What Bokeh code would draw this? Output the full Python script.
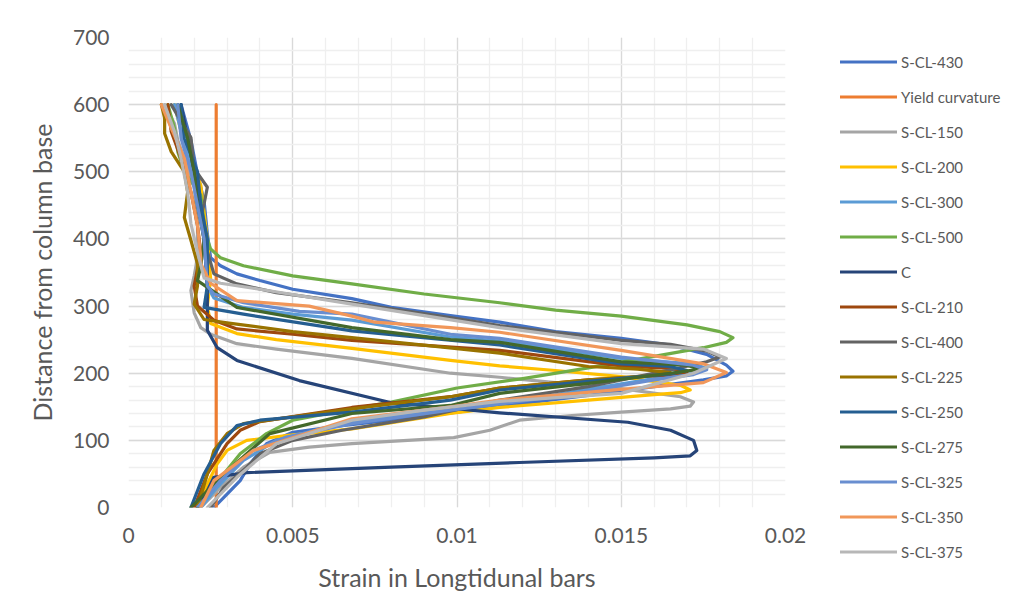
from bokeh.plotting import figure
from bokeh.models import Legend, LegendItem, FixedTicker, Range1d
from bokeh.embed import file_html
from bokeh.resources import INLINE
import numpy as np

# ---------------- data (strain, distance from base) ----------------
x_ticks = [0, 0.005, 0.01, 0.015, 0.02]
x_tick_labels = ["0", "0.005", "0.01", "0.015", "0.02"]
y_ticks = [0, 100, 200, 300, 400, 500, 600, 700]

s430_x = [0.0026,0.0030,0.0034,0.0037,0.0042,0.0050,0.0065,0.0080,0.0100,0.0120,0.0140,0.0160,0.0175,0.0182,0.0184,0.0182,0.0176,0.0165,0.0150,0.0130,0.0113,0.0098,0.0080,0.0068,0.0050,0.0040,0.0033,0.0028,0.0025,0.0024,0.0023,0.0021,0.0019,0.0016]
s430_y = [0,20,40,65,95,112,122,130,142,155,167,180,190,196,203,212,228,242,252,262,276,286,298,311,325,338,348,360,372,408,457,497,547,600]

yield_x = [0.00267, 0.00267]
yield_y = [0, 600]

s150_x = [0.0022,0.0028,0.0035,0.0043,0.0055,0.0068,0.0085,0.0099,0.0110,0.0119,0.0135,0.0150,0.0165,0.0171,0.0172,0.0168,0.0150,0.0130,0.0113,0.0098,0.0068,0.0045,0.0033,0.0025,0.0022,0.0020,0.0019,0.0020,0.0021,0.0021,0.0020,0.0017,0.0015,0.0014,0.0011]
s150_y = [0,30,60,82,90,95,100,104,115,130,137,142,147,151,157,165,177,186,194,200,222,236,244,258,268,290,323,345,372,423,480,520,547,572,600]

s200_x = [0.0021,0.0024,0.0027,0.0030,0.0036,0.0048,0.0068,0.0085,0.0098,0.0113,0.0140,0.0160,0.0168,0.0171,0.0168,0.0150,0.0130,0.0113,0.0098,0.0068,0.0045,0.0033,0.0025,0.0024,0.0025,0.0024,0.0023,0.0022,0.0019,0.0016,0.0014]
s200_y = [0,35,65,85,100,107,117,130,140,149,160,168,171,175,182,195,204,211,219,237,250,259,274,300,340,400,440,480,520,560,600]

s300_x = [0.0022,0.0027,0.0035,0.0045,0.0065,0.0098,0.0130,0.0160,0.0172,0.0176,0.0172,0.0160,0.0150,0.0113,0.0098,0.0068,0.0050,0.0035,0.0026,0.0024,0.0023,0.0021,0.0019,0.0016,0.0014]
s300_y = [0,30,70,100,125,147,168,192,200,207,214,218,222,248,254,279,288,298,312,330,400,460,510,560,600]

s500_x = [0.0021,0.0025,0.0029,0.0034,0.0042,0.0050,0.0066,0.0080,0.0100,0.0120,0.0140,0.0160,0.0175,0.0182,0.0184,0.0180,0.0170,0.0150,0.0130,0.0113,0.0090,0.0068,0.0050,0.0035,0.0028,0.0025,0.0024,0.0023,0.0022,0.0017,0.0015,0.0014,0.0012]
s500_y = [0,25,50,80,110,130,145,157,178,192,208,225,238,246,253,262,272,285,294,305,318,333,345,360,372,385,400,425,465,500,530,565,600]

c_x = [0.0021,0.0024,0.0026,0.0036,0.0080,0.0119,0.0160,0.0171,0.0173,0.0172,0.0165,0.0152,0.0113,0.0080,0.0052,0.0033,0.0027,0.0024,0.0024,0.0024,0.0023,0.0022,0.0020,0.0018,0.0016]
c_y = [0,25,45,52,60,67,74,77,85,100,115,127,141,156,189,219,238,264,293,330,400,450,500,550,600]

s210_x = [0.0020,0.0024,0.0030,0.0034,0.0040,0.0068,0.0098,0.0113,0.0140,0.0163,0.0170,0.0165,0.0150,0.0113,0.0068,0.0050,0.0033,0.0026,0.0021,0.0020,0.0022,0.0021,0.0019,0.0016,0.0013,0.0012]
s210_y = [0,50,95,115,128,149,165,178,190,197,202,207,211,234,249,258,266,279,300,330,380,420,470,520,560,600]

s400_x = [0.0025,0.0029,0.0036,0.0040,0.0050,0.0065,0.0090,0.0113,0.0140,0.0165,0.0176,0.0180,0.0176,0.0165,0.0150,0.0113,0.0098,0.0068,0.0045,0.0033,0.0026,0.0023,0.0022,0.0023,0.0024,0.0020,0.0019,0.0016,0.0013]
s400_y = [0,30,60,80,100,115,135,160,180,205,217,224,233,243,249,271,283,305,320,333,348,398,432,452,477,505,551,575,600]

s225_x = [0.0021,0.0024,0.0026,0.0030,0.0035,0.0068,0.0098,0.0113,0.0140,0.0160,0.0165,0.0155,0.0140,0.0113,0.0068,0.0050,0.0030,0.0023,0.0020,0.0021,0.0021,0.0019,0.0017,0.0018,0.0017,0.0013,0.0011,0.0011,0.0010]
s225_y = [0,50,85,110,125,147,165,178,190,197,201,206,210,230,253,262,275,280,303,330,363,398,432,470,500,530,557,580,600]

s250_x = [0.0019,0.0023,0.0028,0.0033,0.0040,0.0068,0.0098,0.0113,0.0140,0.0165,0.0170,0.0165,0.0150,0.0113,0.0068,0.0035,0.0023,0.0024,0.0024,0.0022,0.0021,0.0017,0.0016]
s250_y = [0,50,95,122,130,142,160,175,188,199,204,210,214,242,263,288,298,330,400,450,500,550,600]

s275_x = [0.0019,0.0028,0.0036,0.0043,0.0068,0.0098,0.0113,0.0140,0.0165,0.0174,0.0170,0.0150,0.0113,0.0098,0.0068,0.0033,0.0021,0.0022,0.0023,0.0021,0.0020,0.0018,0.0015]
s275_y = [0,45,80,110,140,152,170,185,200,206,212,217,246,250,268,298,338,360,400,450,500,550,600]

s325_x = [0.0021,0.0028,0.0038,0.0048,0.0068,0.0098,0.0130,0.0160,0.0172,0.0176,0.0172,0.0150,0.0113,0.0098,0.0068,0.0052,0.0035,0.0026,0.0024,0.0023,0.0021,0.0019,0.0016,0.0015]
s325_y = [0,40,85,105,125,145,165,190,198,205,212,224,252,258,288,292,305,318,330,400,450,500,550,600]

s350_x = [0.0022,0.0026,0.0038,0.0068,0.0098,0.0113,0.0150,0.0175,0.0182,0.0175,0.0150,0.0113,0.0098,0.0075,0.0068,0.0055,0.0033,0.0025,0.0022,0.0022,0.0021,0.0019,0.0017,0.0013,0.0010]
s350_y = [0,40,85,132,150,160,176,186,201,214,234,261,268,276,285,300,308,334,363,372,420,470,520,565,600]

s375_x = [0.0024,0.0033,0.0045,0.0068,0.0090,0.0113,0.0150,0.0172,0.0182,0.0175,0.0150,0.0113,0.0068,0.0040,0.0028,0.0023,0.0021,0.0019,0.0018,0.0016,0.0014,0.0011]
s375_y = [0,45,95,130,145,158,170,200,222,236,244,268,303,325,334,342,380,423,470,520,560,600]

series_names = ["S-CL-430", "Yield curvature", "S-CL-150", "S-CL-200", "S-CL-300",
                "S-CL-500", "C", "S-CL-210", "S-CL-400", "S-CL-225", "S-CL-250",
                "S-CL-275", "S-CL-325", "S-CL-350", "S-CL-375"]
series_colors = ["#4472C4", "#ED7D31", "#A5A5A5", "#FFC000", "#5B9BD5", "#70AD47",
                 "#264478", "#9E480E", "#636363", "#997300", "#255E91", "#43682B",
                 "#698ED0", "#F1975A", "#B7B7B7"]
series_data = [(s430_x, s430_y), (yield_x, yield_y), (s150_x, s150_y), (s200_x, s200_y),
               (s300_x, s300_y), (s500_x, s500_y), (c_x, c_y), (s210_x, s210_y),
               (s400_x, s400_y), (s225_x, s225_y), (s250_x, s250_y), (s275_x, s275_y),
               (s325_x, s325_y), (s350_x, s350_y), (s375_x, s375_y)]

FONT = "Lato"
TXT = "#595959"
LW = 3.2

p = figure(frame_width=657, frame_height=470,
           x_range=Range1d(0, 0.02), y_range=Range1d(0, 700),
           output_backend="svg", toolbar_location=None,
           min_border_left=128, min_border_right=221,
           min_border_top=37, min_border_bottom=76)
p.outline_line_color = None
p.background_fill_color = "white"
p.border_fill_color = "white"

xt = FixedTicker(ticks=x_ticks, minor_ticks=list(np.round(np.arange(0, 0.0201, 0.001), 4)))
yt = FixedTicker(ticks=y_ticks, minor_ticks=list(range(0, 701, 20)))
p.xaxis.ticker = xt
p.yaxis.ticker = yt
p.xgrid.ticker = xt
p.ygrid.ticker = yt
for g in (p.xgrid, p.ygrid):
    g.grid_line_color = "#d9d9d9"
    g.grid_line_width = 1.3
    g.minor_grid_line_color = "#efefef"
    g.minor_grid_line_width = 1.3

p.xaxis.major_label_overrides = {t: l for t, l in zip(x_ticks, x_tick_labels)}

for ax in (p.xaxis, p.yaxis):
    ax.axis_line_color = None
    ax.major_tick_line_color = None
    ax.minor_tick_line_color = None
    ax.major_tick_in = 0
    ax.major_tick_out = 0
    ax.minor_tick_in = 0
    ax.minor_tick_out = 0
    ax.major_label_text_font = FONT
    ax.major_label_text_font_size = "21px"
    ax.major_label_text_color = TXT
    ax.axis_label_text_font = FONT
    ax.axis_label_text_font_size = "25px"
    ax.axis_label_text_font_style = "normal"
    ax.axis_label_text_color = TXT

p.xaxis.axis_label = "Strain in Longtidunal bars"
p.yaxis.axis_label = "Distance from column base"
p.xaxis.major_label_standoff = 20
p.yaxis.major_label_standoff = 19
p.xaxis.axis_label_standoff = 16
p.yaxis.axis_label_standoff = 13

items = []
for name, col, (xs, ys) in zip(series_names, series_colors, series_data):
    r = p.line(xs, ys, line_color=col, line_width=LW, line_join="round", line_cap="round")
    items.append(LegendItem(label=name, renderers=[r]))

# legend in the right-hand side panel (side panels are not clipped to the frame)
legend = Legend(items=items, location=(55, -55),
                label_text_font=FONT, label_text_font_size="15px",
                label_text_color=TXT, glyph_width=57, glyph_height=21,
                label_height=21, spacing=14, padding=0, margin=0,
                label_standoff=4, border_line_color=None,
                background_fill_alpha=0)
p.add_layout(legend, "right")

open("out.html", "w").write(file_html(p, INLINE))
